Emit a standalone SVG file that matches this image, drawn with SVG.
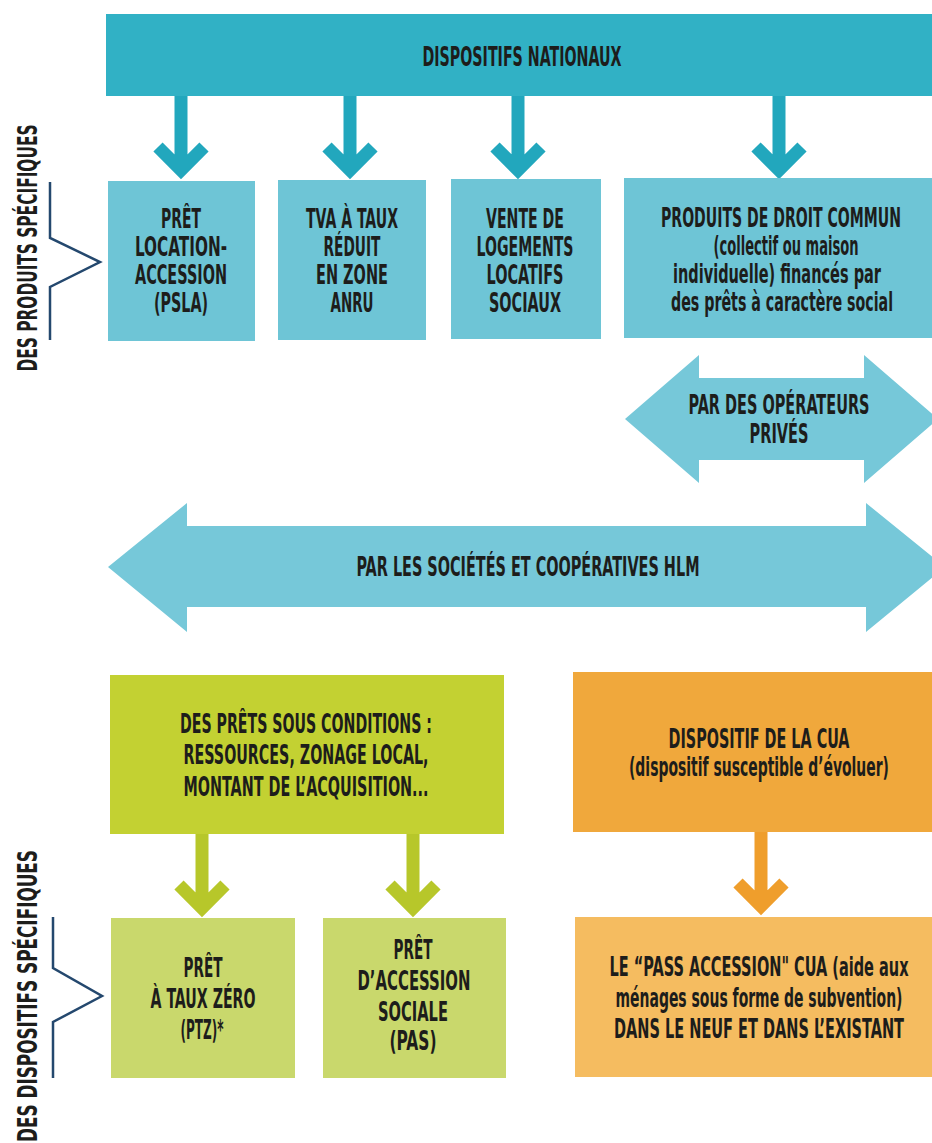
<svg xmlns="http://www.w3.org/2000/svg" width="932" height="1143" viewBox="0 0 932 1143">
<style>
  text { font-family: "Liberation Sans Narrow", "DejaVu Sans Condensed", "Liberation Sans", sans-serif; font-weight: bold; font-size: 26px; fill: #1d1d1b; text-anchor: middle; }
  .bar { fill: #31b1c5; }
  .tbox { fill: #6ec5d6; }
  .dbl { fill: #76c8d9; }
  .gtop { fill: #c3d132; }
  .gbox { fill: #c9d86c; }
  .otop { fill: #f0a83c; }
  .obox { fill: #f5bc60; }
  .ta { stroke: #22a7bd; }
  .ga { stroke: #b7c72a; }
  .oa { stroke: #ef9e2c; }
  .arr { fill: none; stroke-width: 13; stroke-linejoin: miter; stroke-miterlimit: 10; stroke-linecap: butt; }
  .brk { fill: none; stroke: #24486e; stroke-width: 2.5; }
</style>

<g id="label-produits">
  <text transform="translate(37,248) rotate(-90)" textLength="247" lengthAdjust="spacingAndGlyphs">DES PRODUITS SPÉCIFIQUES</text>
  <polyline class="brk" points="50,182 50,238 100,262 50,287 50,340"/>
</g>
<g id="label-dispositifs">
  <text transform="translate(37,996) rotate(-90)" textLength="292" lengthAdjust="spacingAndGlyphs">DES DISPOSITIFS SPÉCIFIQUES</text>
  <polyline class="brk" points="53,917 53,968 102,996 53,1022 53,1078"/>
</g>

<g id="connectors">
  <g class="ta arr">
    <path d="M181,95 V170 M158,147 L181,170 L204,147"/>
    <path d="M350,95 V170 M327,147 L350,170 L373,147"/>
    <path d="M518,95 V170 M495,147 L518,170 L541,147"/>
    <path d="M779,95 V170 M756,147 L779,170 L802,147"/>
  </g>
  <g class="ga arr">
    <path d="M202,833 V908 M179,885 L202,908 L225,885"/>
    <path d="M413,833 V908 M390,885 L413,908 L436,885"/>
  </g>
  <g class="oa arr">
    <path d="M761,831 V906 M738,883 L761,906 L784,883"/>
  </g>
</g>

<g id="dispositifs-nationaux">
  <rect class="bar" x="106" y="14" width="826" height="82"/>
  <text x="522" y="66" textLength="199" lengthAdjust="spacingAndGlyphs">DISPOSITIFS NATIONAUX</text>
</g>

<g id="psla">
  <rect class="tbox" x="108" y="181" width="147" height="160"/>
  <text x="181" y="228" textLength="40" lengthAdjust="spacingAndGlyphs">PRÊT</text>
  <text x="181" y="256" textLength="92" lengthAdjust="spacingAndGlyphs">LOCATION-</text>
  <text x="181" y="284" textLength="92" lengthAdjust="spacingAndGlyphs">ACCESSION</text>
  <text x="181" y="312" textLength="54" lengthAdjust="spacingAndGlyphs">(PSLA)</text>
</g>

<g id="tva">
  <rect class="tbox" x="278" y="180" width="148" height="160"/>
  <text x="352" y="228" textLength="92" lengthAdjust="spacingAndGlyphs">TVA À TAUX</text>
  <text x="352" y="256" textLength="57" lengthAdjust="spacingAndGlyphs">RÉDUIT</text>
  <text x="352" y="284" textLength="72" lengthAdjust="spacingAndGlyphs">EN ZONE</text>
  <text x="352" y="312" textLength="43" lengthAdjust="spacingAndGlyphs">ANRU</text>
</g>

<g id="vente">
  <rect class="tbox" x="451" y="179" width="150" height="160"/>
  <text x="525" y="228" textLength="78" lengthAdjust="spacingAndGlyphs">VENTE DE</text>
  <text x="525" y="256" textLength="97" lengthAdjust="spacingAndGlyphs">LOGEMENTS</text>
  <text x="525" y="284" textLength="77" lengthAdjust="spacingAndGlyphs">LOCATIFS</text>
  <text x="525" y="312" textLength="72" lengthAdjust="spacingAndGlyphs">SOCIAUX</text>
</g>

<g id="droit-commun">
  <rect class="tbox" x="624" y="178" width="308" height="160"/>
  <text x="781" y="227" textLength="240" lengthAdjust="spacingAndGlyphs">PRODUITS DE DROIT COMMUN</text>
  <text x="786" y="255" textLength="145" lengthAdjust="spacingAndGlyphs">(collectif ou maison</text>
  <text x="777" y="283" textLength="208" lengthAdjust="spacingAndGlyphs">individuelle) financés par</text>
  <text x="782" y="311" textLength="222" lengthAdjust="spacingAndGlyphs">des prêts à caractère social</text>
</g>

<g id="operateurs-prives">
  <polygon class="dbl" points="625,419 699,355 699,378 864,378 864,355 938,419 864,483 864,460 699,460 699,483"/>
  <text x="779" y="414" textLength="181" lengthAdjust="spacingAndGlyphs">PAR DES OPÉRATEURS</text>
  <text x="779" y="443" textLength="59" lengthAdjust="spacingAndGlyphs">PRIVÉS</text>
</g>

<g id="hlm">
  <polygon class="dbl" points="108,567 187,503 187,526 866,526 866,503 945,567 866,632 866,607 187,607 187,632"/>
  <text x="528" y="576" textLength="343" lengthAdjust="spacingAndGlyphs">PAR LES SOCIÉTÉS ET COOPÉRATIVES HLM</text>
</g>

<g id="prets-conditions">
  <rect class="gtop" x="110" y="675" width="394" height="159"/>
  <text x="306" y="733" textLength="252" lengthAdjust="spacingAndGlyphs">DES PRÊTS SOUS CONDITIONS :</text>
  <text x="306" y="764" textLength="245" lengthAdjust="spacingAndGlyphs">RESSOURCES, ZONAGE LOCAL,</text>
  <text x="306" y="796" textLength="245" lengthAdjust="spacingAndGlyphs">MONTANT DE L’ACQUISITION...</text>
</g>

<g id="cua">
  <rect class="otop" x="573" y="672" width="359" height="160"/>
  <text x="759" y="748" textLength="181" lengthAdjust="spacingAndGlyphs">DISPOSITIF DE LA CUA</text>
  <text x="759" y="776" textLength="260" lengthAdjust="spacingAndGlyphs">(dispositif susceptible d’évoluer)</text>
</g>

<g id="ptz">
  <rect class="gbox" x="111" y="918" width="184" height="160"/>
  <text x="203" y="977" textLength="39" lengthAdjust="spacingAndGlyphs">PRÊT</text>
  <text x="203" y="1008" textLength="105" lengthAdjust="spacingAndGlyphs">À TAUX ZÉRO</text>
  <text x="202" y="1039" textLength="43" lengthAdjust="spacingAndGlyphs">(PTZ)*</text>
</g>

<g id="pas">
  <rect class="gbox" x="323" y="918" width="183" height="160"/>
  <text x="413" y="959" textLength="39" lengthAdjust="spacingAndGlyphs">PRÊT</text>
  <text x="414" y="990" textLength="113" lengthAdjust="spacingAndGlyphs">D’ACCESSION</text>
  <text x="413" y="1021" textLength="70" lengthAdjust="spacingAndGlyphs">SOCIALE</text>
  <text x="413" y="1050" textLength="47" lengthAdjust="spacingAndGlyphs">(PAS)</text>
</g>

<g id="pass-accession">
  <rect class="obox" x="575" y="917" width="357" height="160"/>
  <text x="759" y="976" textLength="299" lengthAdjust="spacingAndGlyphs">LE “PASS ACCESSION" CUA (aide aux</text>
  <text x="759" y="1007" textLength="287" lengthAdjust="spacingAndGlyphs">ménages sous forme de subvention)</text>
  <text x="759" y="1038" textLength="290" lengthAdjust="spacingAndGlyphs">DANS LE NEUF ET DANS L’EXISTANT</text>
</g>
</svg>
